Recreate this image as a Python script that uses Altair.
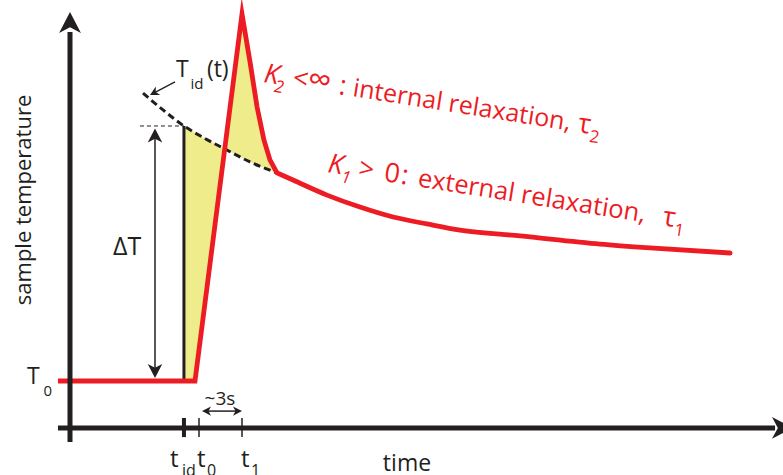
import altair as alt
import pandas as pd

# ---------------------------------------------------------------------------
# Data: time in s measured from t0, sample temperature in units of ΔT above T0
# ---------------------------------------------------------------------------
# measured sample temperature: baseline, heating ramp, peak and fall to the knee
red_t = [-9.84, -0.28, 3.00, 3.56, 4.05, 4.53, 4.95, 5.44]
red_T = [0.000, 0.000, 1.439, 1.251, 1.075, 0.945, 0.867, 0.816]

# slow external relaxation after the knee
decay_t = [5.44, 6.56, 8.93, 11.23, 13.54, 15.91, 18.21, 22.40, 27.98, 31.47, 37.05]
decay_T = [0.816, 0.788, 0.729, 0.682, 0.643, 0.616, 0.592, 0.569, 0.537, 0.522, 0.502]

# ideal (instantaneous) temperature curve T_id(t)
ideal_t = [-3.91, -2.51, -1.05, 0.35, 1.80, 3.56, 5.44]
ideal_T = [1.129, 1.063, 1.000, 0.953, 0.910, 0.859, 0.816]

# characteristic times and levels
t_id, t_0, t_1 = -1.05, 0.0, 3.0
T_0, dT = 0.0, 1.0
t_cross = 1.80          # heating ramp meets T_id(t)
tick_t = [t_id, t_0, t_1]
tick_w = [4, 1.5, 1.5]

# axes extents
axis_t, axis_T = -9.0, -0.184
axis_t_lo, axis_t_hi = -9.84, 40.19
axis_T_lo, axis_T_hi = -0.239, 1.369

RED = "#ed1c24"
BLACK = "#231f20"
YELLOW = "#efec8b"
FONT = "Open Sans"

XS = alt.Scale(domain=[-13.884, 40.744], nice=False, zero=False)
YS = alt.Scale(domain=[-0.3686, 1.4941], nice=False, zero=False)
HEAD = "M0,0 L0.52,1 L0,0.72 L-0.52,1 Z"


def xy():
    return dict(x=alt.X("t:Q", scale=XS, axis=None),
                y=alt.Y("T:Q", scale=YS, axis=None))


def line(t, T, **mark):
    df = pd.DataFrame({"t": t, "T": T, "i": range(len(t))})
    return alt.Chart(df).mark_line(**mark).encode(order="i:Q", **xy())


def polygon(pts, **mark):
    df = pd.DataFrame({"t": [p[0] for p in pts], "T": [p[1] for p in pts],
                       "i": range(len(pts))})
    return alt.Chart(df).mark_line(**mark).encode(order="i:Q", **xy())


def rule(t, T, t2, T2, **mark):
    df = pd.DataFrame({"t": [t], "T": [T], "t2": [t2], "T2": [T2]})
    return alt.Chart(df).mark_rule(**mark).encode(x2="t2:Q", y2="T2:Q", **xy())


def head(t, T, angle, length, color=BLACK):
    df = pd.DataFrame({"t": [t], "T": [T]})
    return alt.Chart(df).mark_point(
        shape=HEAD, filled=True, size=4 * length ** 2, angle=angle,
        color=color, opacity=1, strokeWidth=0).encode(**xy())


def text(s, t, T, size, dx=0, dy=0, angle=0, color=BLACK, style="normal",
         align="left", baseline="alphabetic"):
    df = pd.DataFrame({"t": [t], "T": [T], "s": [s]})
    return alt.Chart(df).mark_text(
        font=FONT, fontSize=size, fontStyle=style, color=color, align=align,
        baseline=baseline, dx=dx, dy=dy, angle=angle).encode(text="s:N", **xy())


layers = []

# yellow areas between the measured curve and T_id(t)
ideal = list(zip(ideal_t, ideal_T))
fill_a = ([(t_id, T_0)] + [p for p in ideal if t_id <= p[0] <= t_cross]
          + [(red_t[1], red_T[1])])
fill_b = ([p for p in ideal if p[0] == t_cross]
          + [p for p in zip(red_t, red_T) if p[0] > t_cross]
          + [p for p in reversed(ideal) if t_cross < p[0] < red_t[-1]])
for poly in (fill_a, fill_b):
    layers.append(polygon(poly, fill=YELLOW, stroke=YELLOW, strokeWidth=0.5))

# T_id(t) dashed curve and the ΔT reference
layers.append(line(ideal_t, ideal_T, color=BLACK, strokeWidth=3,
                   strokeDash=[7, 4], interpolate="monotone"))
layers.append(rule(-4.12, dT, t_id, dT, color=BLACK, strokeWidth=1,
                   strokeDash=[4, 3]))
layers.append(rule(t_id, T_0, t_id, dT, color=BLACK, strokeWidth=3))

# ΔT double arrow
layers.append(rule(-3.07, 0.03, -3.07, 0.97, color=BLACK, strokeWidth=1.5))
layers.append(head(-3.07, 0.99, 0, 14))
layers.append(head(-3.07, 0.012, 180, 14))

# measured temperature
layers.append(line(red_t, red_T, color=RED, strokeWidth=4.8,
                   strokeJoin="miter", strokeMiterLimit=20))
layers.append(line(decay_t, decay_T, color=RED, strokeWidth=4.8,
                   strokeCap="round", interpolate="monotone"))

# axes with arrow heads
layers.append(rule(axis_t, axis_T_lo, axis_t, axis_T_hi, color=BLACK, strokeWidth=5))
layers.append(head(axis_t, 1.447, 0, 21))
layers.append(rule(axis_t_lo, axis_T, axis_t_hi, axis_T, color=BLACK, strokeWidth=5))
layers.append(head(41.44, axis_T, 90, 21))

# time ticks
for tt, w in zip(tick_t, tick_w):
    layers.append(rule(tt, -0.145, tt, -0.22, color=BLACK, strokeWidth=w))

# ~3s interval arrow
layers.append(rule(0.5, -0.118, 2.7, -0.118, color=BLACK, strokeWidth=1.5))
layers.append(head(0.21, -0.118, 270, 9))
layers.append(head(t_1, -0.118, 90, 9))

# pointer to T_id(t)
layers.append(rule(-1.674, 1.173, -3.2, 1.128, color=BLACK, strokeWidth=1.3))
layers.append(head(-3.419, 1.122, 242.5, 9))

# black labels
layers += [
    text("sample temperature", -11.72, 0.71, 22, angle=270, align="center"),
    text("time", 14.51, -0.353, 23, align="center"),
    text("T", -12.0, -0.012, 23), text("0", -10.85, -0.06, 15),
    text("ΔT", -6.0, 0.494, 25),
    text("T", -1.60, 1.192, 23), text("id", -0.60, 1.145, 15),
    text("(t)", 0.55, 1.192, 23),
    text("t", -2.02, -0.337, 24), text("id", -1.19, -0.372, 16),
    text("t", -0.14, -0.337, 24), text("0", 0.558, -0.372, 16),
    text("t", 2.93, -0.337, 24), text("1", 3.63, -0.372, 16),
    text("~3s", 1.465, -0.094, 19, align="center"),
]

# red annotations along a tilted baseline
ANGLE = 9
red_labels = [
    ((4.465, 1.1725), [("K", 0, 0, 27, "italic"), ("2", 12, 8, 17, "italic"),
                       ("<", 29, 0, 27, "normal"), ("∞", 44, 0, 33, "normal"),
                       (":", 76, 0, 27, "normal"),
                       ("internal relaxation,", 90, 0, 25, "normal"),
                       ("τ", 318, 0, 27, "normal"), ("2", 331, 8, 17, "normal")]),
    ((8.930, 0.8196), [("K", 0, 0, 27, "italic"), ("1", 15, 8, 17, "italic"),
                       (">", 31, 0, 27, "normal"), ("0", 57, 0, 27, "normal"),
                       (":", 74, 0, 27, "normal"),
                       ("external relaxation,", 91, 0, 25.5, "normal"),
                       ("τ", 339, 0, 27, "normal"), ("1", 352, 8, 17, "normal")]),
]
for (at, aT), pieces in red_labels:
    for s, dx, dy, size, style in pieces:
        layers.append(text(s, at, aT, size, dx=dx, dy=dy, angle=ANGLE,
                           color=RED, style=style))

chart = alt.layer(*layers).properties(
    width=783, height=475,
    autosize=alt.AutoSizeParams(type="none"),
    padding=0,
).configure_view(stroke=None)

chart.save("out.html", embed_options={"renderer": "svg", "actions": False})
